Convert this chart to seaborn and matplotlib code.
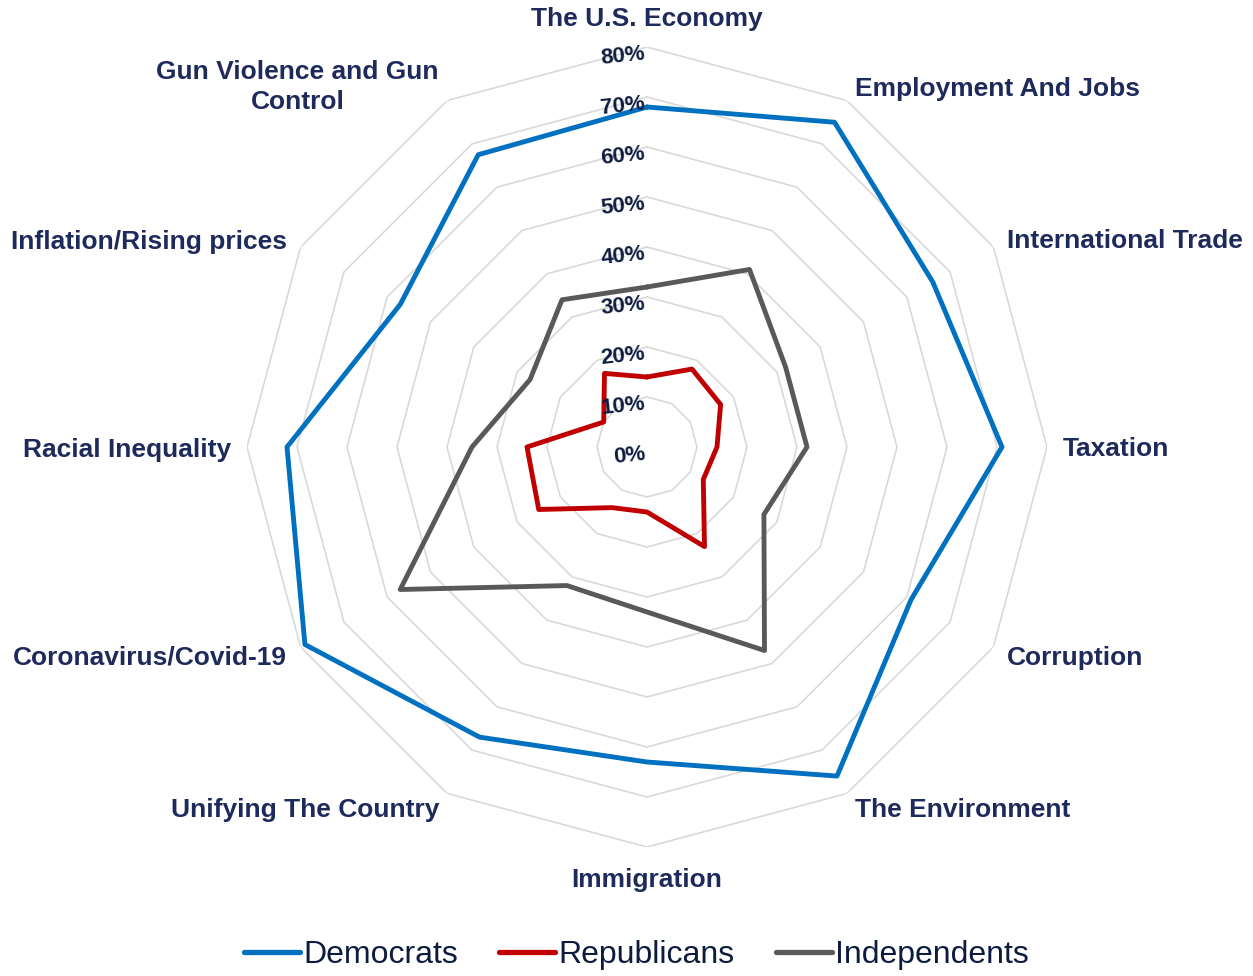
import numpy as np
import matplotlib
matplotlib.use("Agg")
import matplotlib.pyplot as plt
import seaborn as sns
import pandas as pd
from matplotlib.lines import Line2D

# 数据
categories = ['The U.S. Economy', 'Employment And Jobs', 'International Trade', 'Taxation',
              'Corruption', 'The Environment', 'Immigration', 'Unifying The Country',
              'Coronavirus/Covid-19', 'Racial Inequality', 'Inflation/Rising prices',
              'Gun Violence and Gun\nControl']
democrats = [68, 75, 66, 71, 61, 76, 63, 67, 79, 72, 57, 67.5]
republicans = [14, 18, 17, 14, 13, 23, 13, 14, 25, 24, 10, 17]
independents = [32, 41, 32, 32, 27, 47, 33, 32, 57, 35, 27, 34]
parties = ['Democrats', 'Republicans', 'Independents']
ring_levels = [0, 10, 20, 30, 40, 50, 60, 70, 80]
ring_labels = ['0%', '10%', '20%', '30%', '40%', '50%', '60%', '70%', '80%']

colors = {'Democrats': '#0070C0', 'Republicans': '#C00000', 'Independents': '#595959'}
label_color = '#1F2A5C'
tick_color = '#0D1B3E'

sns.set_theme(style='white')
plt.rcParams['font.family'] = ['Liberation Sans', 'DejaVu Sans']

n = len(categories)
theta = np.arange(n) * 2 * np.pi / n
theta_closed = np.append(theta, theta[0])

rows = []
for party, vals in zip(parties, [democrats, republicans, independents]):
    vals_closed = list(vals) + [vals[0]]
    for k, (t, v) in enumerate(zip(theta_closed, vals_closed)):
        rows.append({'party': party, 'order': k, 'theta': t, 'value': v})
df = pd.DataFrame(rows)

fig = plt.figure(figsize=(12.53, 9.76), dpi=100)
ax = fig.add_axes([247 / 1253, 129 / 976, 800 / 1253, 800 / 976], projection='polar')
ax.set_theta_zero_location('N')
ax.set_theta_direction(-1)
ax.set_ylim(0, 80)
ax.grid(False)
ax.spines['polar'].set_visible(False)
ax.set_xticks([])
ax.set_yticks([])

# 十二边形网格
for lvl in ring_levels[1:]:
    ax.plot(theta_closed, [lvl] * (n + 1), color='#D9D9D9', lw=1.2, zorder=1)

sns.lineplot(data=df, x='theta', y='value', hue='party', palette=colors, sort=False,
             estimator=None, units='party', lw=3.5, legend=False, ax=ax, zorder=3)
ax.set_xlabel('')
ax.set_ylabel('')

# 径向刻度标签
for lvl, txt in zip(ring_levels, ring_labels):
    ax.annotate(txt, xy=(0, lvl), xytext=(-2, -7), textcoords='offset pixels',
                ha='right', va='center', fontsize=16, fontweight='bold',
                color=tick_color, rotation=6, rotation_mode='anchor', zorder=4)

# 类别标签
r_lab = 83.2
for t, cat in zip(theta, categories):
    s = np.sin(t)
    c = np.cos(t)
    r = r_lab
    if abs(s) < 1e-6:
        ha = 'center'
        va = 'bottom' if c > 0 else 'top'
        if c < 0:
            r = r_lab + 1.0
    else:
        ha = 'left' if s > 0 else 'right'
        va = 'center' if '\n' in cat else 'center_baseline'
    ax.text(t, r, cat, ha=ha, va=va, fontsize=19, fontweight='bold',
            color=label_color, multialignment='center', linespacing=1.3)

handles = [Line2D([0], [0], color=colors[p], lw=3.8, solid_capstyle='round') for p in parties]
fig.legend(handles, parties, loc='center', bbox_to_anchor=(0.508, 1 - 955 / 976), ncol=3,
           frameon=False, fontsize=23, handlelength=1.75, handletextpad=0.1,
           columnspacing=1.3, labelcolor=tick_color)

fig.savefig('out.png', dpi=100)
